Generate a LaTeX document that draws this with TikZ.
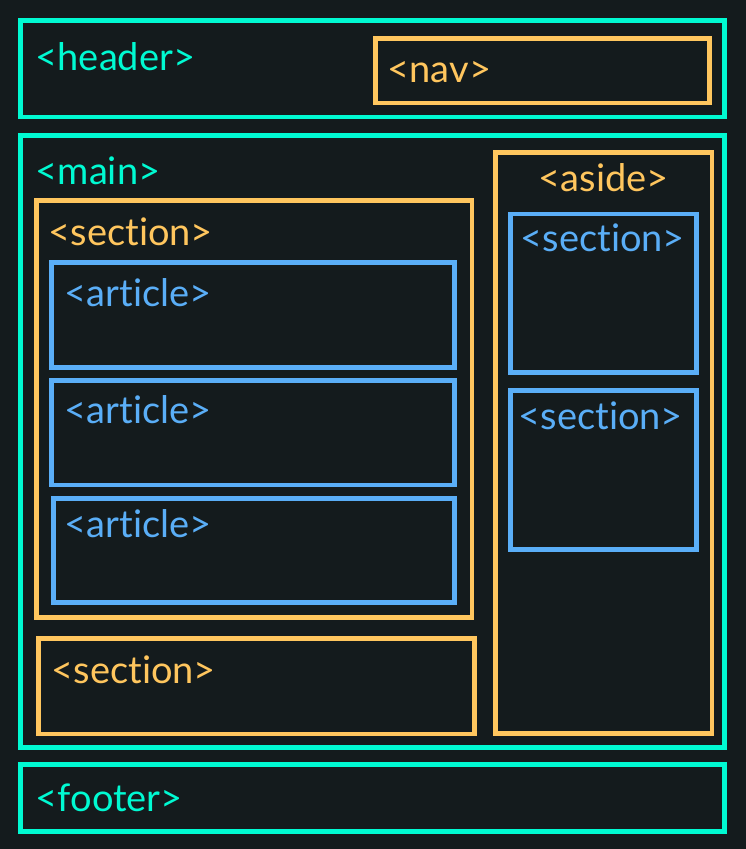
\documentclass[tikz,border=0pt]{standalone}
\usepackage{fontspec}
\setmainfont{Lato}[Ligatures={NoCommon,NoRare,NoDiscretionary}]
\definecolor{bgc}{HTML}{141B1D}
\definecolor{cyanc}{HTML}{00FAD2}
\definecolor{orangec}{HTML}{FFC65E}
\definecolor{bluec}{HTML}{5AAEF7}
\begin{document}
\begin{tikzpicture}[x=1pt,y=-1pt,
  box/.style={line width=4.8pt},
  cbox/.style={box,draw=cyanc},
  obox/.style={box,draw=orangec},
  bbox/.style={box,draw=bluec},
  lbl/.style={anchor=base west,inner sep=0pt,font=\fontsize{38}{45}\selectfont},
  clbl/.style={lbl,text=cyanc},
  olbl/.style={lbl,text=orangec},
  blbl/.style={lbl,text=bluec}]
\fill[bgc] (0,0) rectangle (746,849);
\useasboundingbox (0,0) rectangle (746,849);
% header
\draw[cbox] (20.5,20.5) rectangle (724.5,117);
\node[clbl] (header) at (35.5,70) {<header>};
\draw[obox] (375.7,38.3) rectangle (709.5,103);
\node[olbl] (nav) at (387.5,82) {<nav>};
% main
\draw[cbox] (20.5,135.5) rectangle (724.5,747.3);
\node[clbl] (main) at (35.5,184) {<main>};
% section 1
\draw[obox] (36.5,200.7) rectangle (472,617.7);
\node[olbl] (sec1) at (48.5,245) {<section>};
\draw[bbox] (51.5,262.5) rectangle (454.5,367.5);
\node[blbl] (art1) at (64.5,306) {<article>};
\draw[bbox] (51.5,380.5) rectangle (454.5,485);
\node[blbl] (art2) at (64.5,423) {<article>};
\draw[bbox] (53.5,498.5) rectangle (454.5,602.5);
\node[blbl] (art3) at (64.5,537) {<article>};
% section 2
\draw[obox] (38.5,638.5) rectangle (474.5,734);
\node[olbl] (sec2) at (51.5,683) {<section>};
% aside
\draw[obox] (495.5,152.8) rectangle (712,733.5);
\node[olbl,anchor=base] (aside) at (603.7,191.7) {<aside>};
\draw[bbox] (510.8,214) rectangle (696.2,372.5);
\node[blbl] (asec1) at (520.5,251) {<section>};
\draw[bbox] (510.8,390.8) rectangle (696.2,549.2);
\node[blbl] (asec2) at (518.5,429) {<section>};
% footer
\draw[cbox] (20.5,764.7) rectangle (724.5,831.3);
\node[clbl] (footer) at (35.5,811.7) {<footer>};
\end{tikzpicture}
\end{document}
